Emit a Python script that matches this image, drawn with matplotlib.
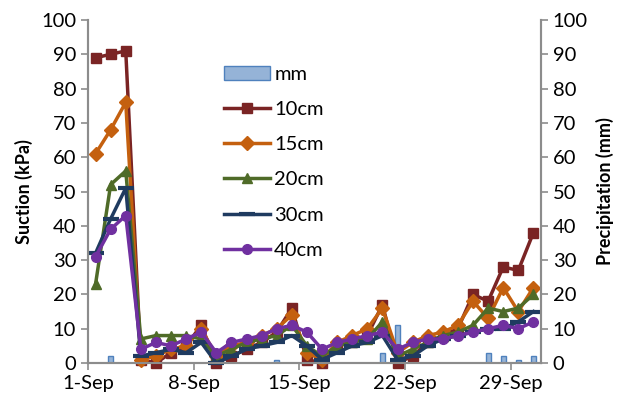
import matplotlib.pyplot as plt
import numpy as np

plt.rcParams['font.family'] = ['Lato', 'DejaVu Sans']

# daily readings, 1-Sep .. 30-Sep
days = np.arange(1, 31)
tick_labels = ['1-Sep', '8-Sep', '15-Sep', '22-Sep', '29-Sep']

rain_mm = [0, 2, 0, 0, 0, 0, 0, 0, 0, 0, 0, 0, 1, 0, 0, 0, 0, 0, 0, 3,
           11, 0, 0, 0, 0, 0, 3, 2, 1, 2]
s10 = [89, 90, 91, 1, 0, 3, 5, 11, 0, 2, 4, 6, 9, 16, 1, 0, 5, 6, 8, 17,
       0, 2, 6, 8, 10, 20, 18, 28, 27, 38]
s15 = [61, 68, 76, 1, 2, 4, 5, 10, 2, 5, 6, 8, 10, 14, 3, 1, 6, 8, 10, 16,
       3, 6, 8, 9, 11, 18, 13, 22, 15, 22]
s20 = [23, 52, 56, 7, 8, 8, 8, 7, 2, 4, 6, 7, 8, 11, 5, 2, 5, 6, 7, 12,
       2, 4, 6, 8, 9, 11, 16, 15, 16, 20]
s30 = [32, 42, 51, 2, 3, 4, 3, 6, 0, 2, 4, 5, 6, 8, 5, 1, 3, 5, 6, 8,
       1, 2, 5, 7, 8, 9, 10, 10, 12, 15]
s40 = [31, 39, 43, 4, 6, 5, 7, 9, 3, 6, 7, 8, 10, 11, 9, 4, 6, 7, 8, 9,
       4, 6, 7, 7, 8, 9, 10, 11, 10, 12]

series = [
    ('10cm', s10, '#7a2424', 's', 7),
    ('15cm', s15, '#c4600f', 'D', 7),
    ('20cm', s20, '#4f6b28', '^', 7),
    ('30cm', s30, '#1f3b60', '_', 12),
    ('40cm', s40, '#7030a0', 'o', 7),
]

fig = plt.figure(figsize=(6.21, 4.05), dpi=100)
ax = fig.add_axes([0.1417, 0.1037, 0.8711 - 0.1417, 0.9506 - 0.1037])
ax2 = ax.twinx()

x = days - 0.5
bars = ax2.bar(x, rain_mm, width=0.33, color='#95b3d7', edgecolor='#4f81bd',
               linewidth=1, label='mm')

handles = [bars]
for name, vals, col, mk, ms in series:
    ln, = ax.plot(x, vals, color=col, lw=2.5, marker=mk, ms=ms,
                  mew=3 if mk == '_' else 1, label=name, clip_on=False)
    handles.append(ln)

ax.set_zorder(ax2.get_zorder() + 1)
ax.patch.set_visible(False)

for a in (ax, ax2):
    a.set_ylim(0, 100)
    a.set_yticks(range(0, 101, 10))
    a.set_xlim(0, 30)
    for sp in a.spines.values():
        sp.set_color('#8c8c8c')
        sp.set_linewidth(1.5)
    a.spines['top'].set_visible(False)
    a.tick_params(colors='#8c8c8c', labelcolor='black', labelsize=14.5,
                  width=1.2, length=5)

ax.set_xticks([0, 7, 14, 21, 28])
ax.set_xticklabels(tick_labels)
ax.set_ylabel('Suction (kPa)', fontsize=13, fontweight='bold', labelpad=6)
ax2.set_ylabel('Precipitation (mm)', fontsize=13, fontweight='bold', labelpad=6)

ax.legend(handles=handles, labels=[h.get_label() for h in handles],
          loc='upper left', bbox_to_anchor=(0.26, 0.92), frameon=False,
          fontsize=14.5, handlelength=2.3, labelspacing=0.9, handletextpad=0.2)

fig.savefig('out.png', dpi=100)
